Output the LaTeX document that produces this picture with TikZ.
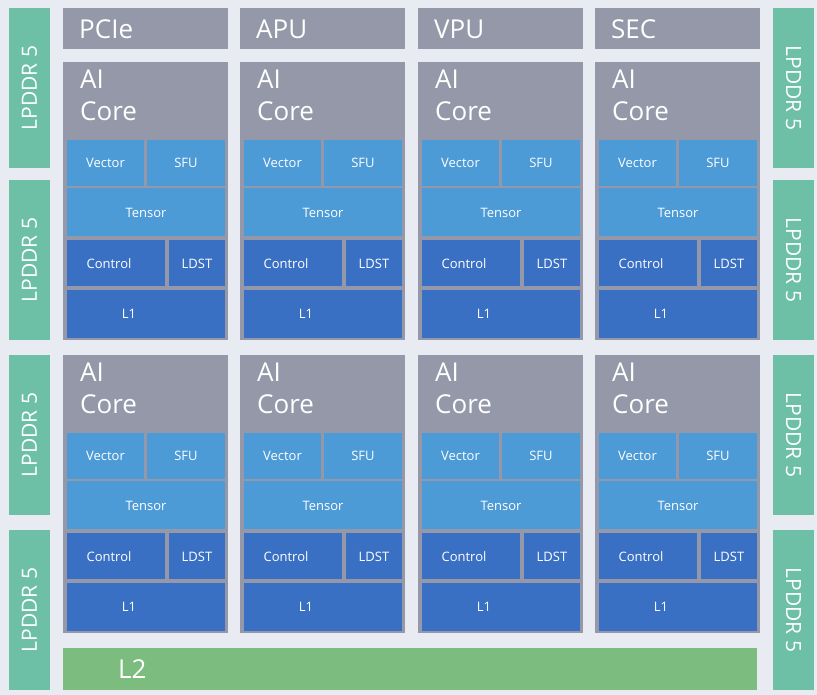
\documentclass[tikz,border=0pt]{standalone}
\usepackage{fontspec}
\setmainfont{Open Sans}
\definecolor{bg}{HTML}{E8ECF2}
\definecolor{gr}{HTML}{9498A8}
\definecolor{lb}{HTML}{4C9AD6}
\definecolor{db}{HTML}{3A70C4}
\definecolor{mem}{HTML}{6DBFA6}
\definecolor{ltwo}{HTML}{7CBC7E}
\begin{document}
\begin{tikzpicture}[x=1pt,y=-1pt,
  lbl/.style={text=white,font=\fontsize{13}{14}\selectfont,inner sep=0pt},
  big/.style={text=white,font=\fontsize{26}{32}\selectfont,inner sep=0pt,align=left},
  memt/.style={text=white,font=\fontsize{21}{23}\selectfont,inner sep=0pt}]
\fill[bg] (0,0) rectangle (817,695);
\useasboundingbox (0,0) rectangle (817,695);
% memories
\foreach \i/\ya/\yb in {1/8/168,2/180/340,3/355/515,4/530/690}{
  \fill[mem] (9,\ya) rectangle (50,\yb);
  \node[memt,rotate=90] (ml\i) at (29.5,{(\ya+\yb)/2}) {LPDDR 5};
  \fill[mem] (773,\ya) rectangle (814,\yb);
  \node[memt,rotate=-90] (mr\i) at (793.5,{(\ya+\yb)/2}) {LPDDR 5};
}
% headers
\foreach \n/\dx in {PCIe/0,APU/177,VPU/355,SEC/532}{
  \fill[gr] (63+\dx,8) rectangle (228+\dx,49);
  \node[big,anchor=west] (h\n) at (79+\dx,29) {\n};
}
% cores
\foreach \c/\dx in {1/0,2/177,3/355,4/532}{
 \foreach \r/\dy in {1/0,2/293}{
  \begin{scope}[shift={(\dx,\dy)}]
  \fill[gr] (63,62) rectangle (228,340);
  \node[big,anchor=north west] (ai\c\r) at (80,70) {AI\\Core};
  \fill[lb] (67,140) rectangle (144,186);
  \node[lbl] (v\c\r) at (105.5,163) {Vector};
  \fill[lb] (147,140) rectangle (225,186);
  \node[lbl] (s\c\r) at (186,163) {SFU};
  \fill[lb] (67,188) rectangle (225,236);
  \node[lbl] (t\c\r) at (146,213) {Tensor};
  \fill[db] (67,240) rectangle (165,286);
  \node[lbl] (c\c\r) at (109,264) {Control};
  \fill[db] (169,240) rectangle (225,286);
  \node[lbl] (ld\c\r) at (197,264) {LDST};
  \fill[db] (67,290) rectangle (225,338);
  \node[lbl] (l\c\r) at (129,314) {L1};
  \end{scope}
 }
}
\fill[ltwo] (63,648) rectangle (757,690);
\node[big,anchor=west] (l2) at (118,669) {L2};
\end{tikzpicture}
\end{document}
